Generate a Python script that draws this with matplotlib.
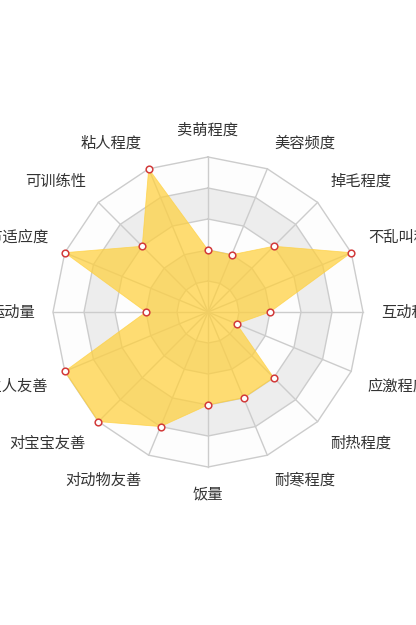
import numpy as np
import matplotlib
matplotlib.use("Agg")
import matplotlib.pyplot as plt
from matplotlib.patches import Polygon

plt.rcParams['font.family'] = ['Noto Sans CJK SC', 'DejaVu Sans']

indicators = ['卖萌程度', '美容频度', '掉毛程度', '不乱叫程度', '互动程度', '应激程度',
              '耐热程度', '耐寒程度', '饭量', '对动物友善', '对宝宝友善', '对陌生人友善',
              '运动量', '城市适应度', '可训练性', '粘人程度']
values = [2, 2, 3, 5, 2, 1, 3, 3, 3, 4, 5, 5, 2, 5, 3, 5]
max_value = 5
split_number = 5

W, H = 416, 625
R = 155.0
fig = plt.figure(figsize=(W / 100, H / 100), dpi=100)
ax = fig.add_axes([0, 0, 1, 1])
ax.set_xlim(-208, 208)
ax.set_ylim(-313, 312)
ax.axis('off')

n = len(indicators)
theta = np.pi / 2 - np.arange(n) * 2 * np.pi / n
ux, uy = np.cos(theta), np.sin(theta)

# split areas (from outer to inner)
area_colors = ['#fdfdfd', '#ededed']
for i in range(split_number, 0, -1):
    r = R * i / split_number
    col = area_colors[(i - 1) % 2]
    ax.add_patch(Polygon(np.c_[ux * r, uy * r], closed=True, facecolor=col,
                         edgecolor='none', zorder=1))
# split lines
for i in range(1, split_number + 1):
    r = R * i / split_number
    xs = np.r_[ux * r, ux[0] * r]
    ys = np.r_[uy * r, uy[0] * r]
    ax.plot(xs, ys, color='#cccccc', lw=1, zorder=2)
# axis lines
for k in range(n):
    ax.plot([0, ux[k] * R], [0, uy[k] * R], color='#cccccc', lw=1, zorder=2)

# data
fill_col = (255 / 255, 208 / 255, 60 / 255)
v = np.array(values, dtype=float) / max_value * R
px, py = ux * v, uy * v
ax.add_patch(Polygon(np.c_[px, py], closed=True, facecolor=fill_col,
                     alpha=0.72, edgecolor=fill_col, lw=0.6, zorder=3))
ax.plot(px, py, linestyle='none', marker='o', markersize=4.8,
        markerfacecolor='white', markeredgecolor='#d23a3a', markeredgewidth=1.1, zorder=4)

# labels
lr = R + 18
for k, name in enumerate(indicators):
    c, s = ux[k], uy[k]
    ha = 'center' if abs(c) < 0.01 else ('left' if c > 0 else 'right')
    va = 'center' if abs(s) < 0.01 else ('bottom' if s > 0 else 'top')
    ax.text(c * lr, s * lr, name, ha=ha, va=va, fontsize=11, color='#333333', zorder=5)

fig.savefig('out.png', dpi=100)
